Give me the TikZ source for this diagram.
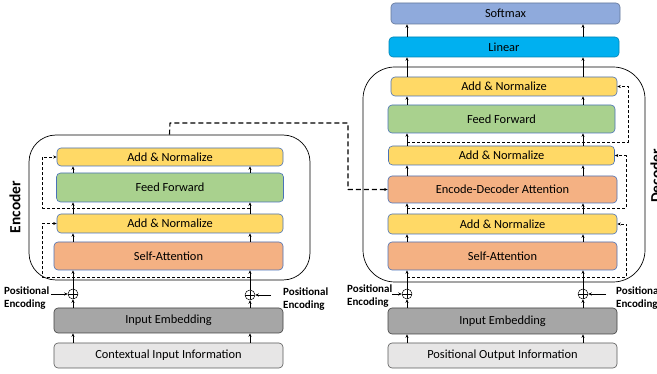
\documentclass[tikz,border=0pt]{standalone}
\usepackage{fontspec}
\setmainfont{Carlito}
\usetikzlibrary{arrows.meta}
\definecolor{addYel}{HTML}{FFD966}
\definecolor{ffGreen}{HTML}{A9D18E}
\definecolor{attOr}{HTML}{F4B183}
\definecolor{blkLine}{HTML}{4A72B8}
\definecolor{embGray}{HTML}{A6A6A6}
\definecolor{infoGray}{HTML}{E7E6E6}
\definecolor{softBlue}{HTML}{8FAADC}
\definecolor{linCyan}{HTML}{00B0F0}
\tikzset{
  block/.style={draw=blkLine, line width=0.6pt, rounded corners=4pt, minimum width=#1,
    inner sep=0pt, font=\fontsize{12.4}{14}\selectfont},
  addnorm/.style={block=226pt, fill=addYel},
  ffwd/.style={block=227pt, fill=ffGreen},
  attn/.style={block=229pt, fill=attOr},
  embed/.style={block=229pt, fill=embGray, draw=black!75},
  info/.style={block=229pt, fill=infoGray, draw=black!65},
  stack/.style={draw, line width=0.7pt, rounded corners=27pt},
  plusc/.style={circle, draw, line width=0.5pt, minimum size=10pt, inner sep=0pt,
    path picture={\draw[line width=0.5pt] (path picture bounding box.north) -- (path picture bounding box.south)
      (path picture bounding box.west) -- (path picture bounding box.east);}},
  poslbl/.style={font=\fontsize{11}{13}\selectfont\bfseries, align=left, inner sep=0pt},
  flow/.style={->, line width=0.6pt},
  res/.style={->, dashed, line width=0.6pt, dash pattern=on 3pt off 2pt},
  crossres/.style={->, line width=1.1pt, dash pattern=on 5pt off 3pt},
  side/.style={font=\fontsize{15.5}{18}\selectfont\bfseries, rotate=90}
}
\begin{document}
\begin{tikzpicture}[x=1pt, y={(0pt,-1pt)}, >={Stealth[length=3.5pt,width=3pt]}, line join=round]
\useasboundingbox (0,0) rectangle (657,374);
% encoder
\node[stack, minimum width=281pt, minimum height=145pt] (enc) at (169.5,207.5) {};
\node[side] (encL) at (15,207) {Encoder};
\node[addnorm, minimum height=18pt] (eAN2) at (170,157) {Add \& Normalize};
\node[ffwd, minimum height=29pt] (eFF) at (170,187.5) {Feed Forward};
\node[addnorm, minimum height=19pt] (eAN1) at (170,223.5) {Add \& Normalize};
\node[attn, minimum height=28pt] (eSA) at (168.5,256) {Self-Attention};
\node[embed, minimum height=25pt] (eIE) at (168.5,320.5) {Input Embedding};
\node[info, minimum height=25pt] (eCI) at (168.5,355.5) {Contextual Input Information};
\node[plusc] (eP1) at (73,294) {};
\node[plusc] (eP2) at (250,295) {};
\node[poslbl, anchor=west] (ePEl) at (4,298) {Positional\\Encoding};
\node[poslbl, anchor=west] (ePEr) at (283,299) {Positional\\Encoding};
\coordinate (eL) at (73,0);
\coordinate (eR) at (250,0);
% decoder
\node[stack, minimum width=282pt, minimum height=215pt, rounded corners=32pt] (dec) at (504,174.5) {};
\node[side] (decL) at (656,176) {Decoder};
\node[block=229pt, fill=softBlue, draw=softBlue!70!black, minimum height=21pt] (soft) at (505.5,13.5) {Softmax};
\node[block=230pt, fill=linCyan, draw=linCyan!75!black, minimum height=20pt] (lin) at (504,47) {Linear};
\node[addnorm, minimum height=19pt] (dAN3) at (504,86.5) {Add \& Normalize};
\node[ffwd, minimum height=28pt] (dFF) at (501.5,119) {Feed Forward};
\node[addnorm, minimum height=19pt] (dAN2) at (501.5,155.5) {Add \& Normalize};
\node[attn, minimum height=27pt] (dED) at (502.5,189.5) {Encode-Decoder Attention};
\node[addnorm, minimum height=20pt, minimum width=229pt] (dAN1) at (502.5,224) {Add \& Normalize};
\node[attn, minimum height=28pt] (dSA) at (502.5,256) {Self-Attention};
\node[embed, minimum height=26pt] (dIE) at (502.5,321) {Input Embedding};
\node[info, minimum height=25pt] (dPO) at (502.5,355.5) {Positional Output Information};
\node[plusc] (dP1) at (407,294) {};
\node[plusc] (dP2) at (583,294) {};
\node[poslbl, anchor=west] (dPEl) at (347,296) {Positional\\Encoding};
\node[poslbl, anchor=west] (dPEr) at (616,298) {Positional\\Encoding};
\coordinate (dL) at (407,0);
\coordinate (dR) at (583,0);

% main flow
\foreach \c in {eL,eR}
  \foreach \a/\b in {eCI/eIE, eSA/eAN1, eAN1/eFF, eFF/eAN2}
    \draw[flow] (\c |- \a.north) -- (\c |- \b.south);
\foreach \c in {dL,dR}
  \foreach \a/\b in {dPO/dIE, dSA/dAN1, dAN1/dED, dED/dAN2, dAN2/dFF, dFF/dAN3, dAN3/lin, lin/soft}
    \draw[flow] (\c |- \a.north) -- (\c |- \b.south);
\draw[flow] (eL |- eIE.north) -- (eP1.south);
\draw[flow] (eR |- eIE.north) -- (eP2.south);
\draw[flow] (eP1.north) -- (eL |- eSA.south);
\draw[flow] (eP2.north) -- (eR |- eSA.south);
\draw[flow] (dL |- dIE.north) -- (dP1.south);
\draw[flow] (dR |- dIE.north) -- (dP2.south);
\draw[flow] (dP1.north) -- (dL |- dSA.south);
\draw[flow] (dP2.north) -- (dR |- dSA.south);

% positional encodings
\draw[flow] (ePEl.east |- eP1) ++(2,0) -- (eP1.west);
\draw[flow] (ePEr.west |- eP2) ++(-12,0) -- (eP2.east);
\draw[flow] (dPEl.east |- dP1) ++(0,0) -- (dP1.west);
\draw[flow] (dPEr.west |- dP2) ++(-10,0) -- (dP2.east);

% residual paths
\draw[res] (eR |- 0,208) -| ([xshift=-14pt]eAN2.west) -- (eAN2.west);
\draw[res] (eR |- 0,277) -| ([xshift=-14pt]eAN1.west) -- (eAN1.west);
\draw[res] (dL |- 0,142) -| ([xshift=11pt]dAN3.east) -- (dAN3.east);
\draw[res] (dL |- 0,208) -| ([xshift=11pt]dAN2.east) -- (dAN2.east);
\draw[res] (dL |- 0,277) -| ([xshift=9pt]dAN1.east) -- (dAN1.east);

% encoder output to decoder
\draw[crossres] (enc.north) -- (170,123) -| (348,160) |- (dED.west);
\end{tikzpicture}
\end{document}
